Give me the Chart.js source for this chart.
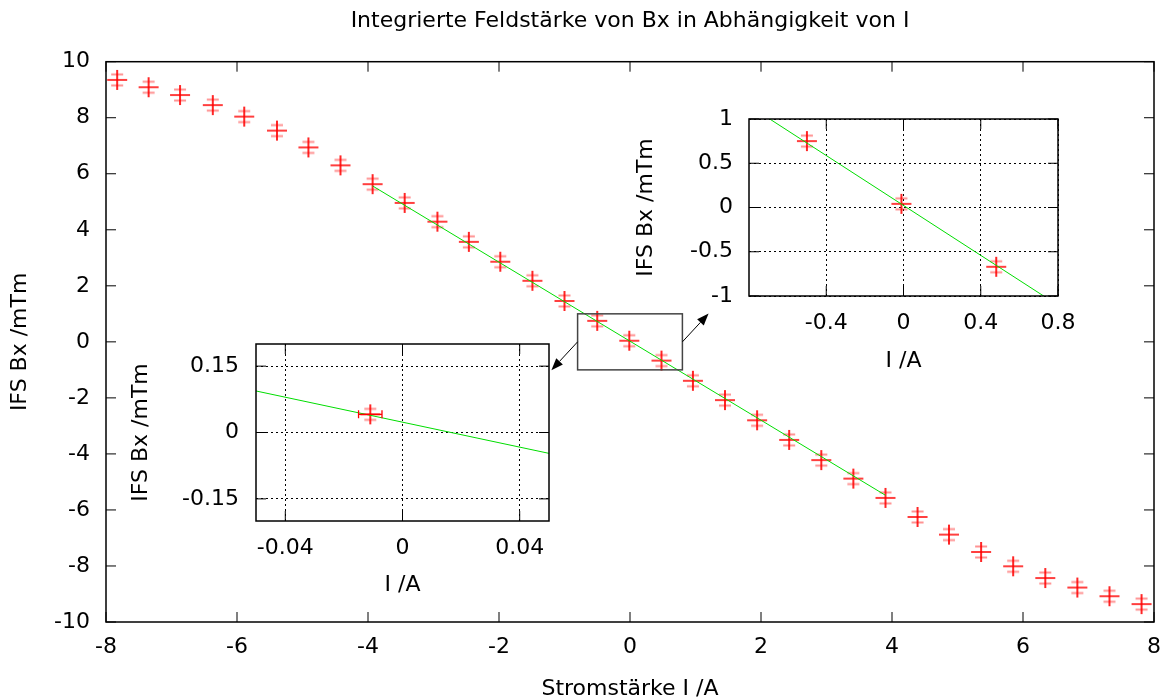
<!DOCTYPE html>
<html>
<head>
<meta charset="utf-8">
<script src="https://cdn.jsdelivr.net/npm/chart.js@4.4.1/dist/chart.umd.min.js"></script>
<style>
  body { margin: 0; background: #fff; }
  #wrap { position: relative; width: 1165px; height: 700px; }
  canvas { position: absolute; }
  #mainChart { left: 0; top: 0; }
  #zoomA { left: 630px; top: 100px; }
  #zoomB { left: 125px; top: 330px; }
</style>
</head>
<body>
<div id="wrap">
  <canvas id="mainChart" width="1165" height="700"></canvas>
  <canvas id="zoomA" width="470" height="280"></canvas>
  <canvas id="zoomB" width="440" height="270"></canvas>
</div>
<script>
// measured values (I in A, IFS Bx in mTm)
const current = [-7.83, -7.35, -6.87, -6.37, -5.89, -5.39, -4.91, -4.42, -3.93, -3.44, -2.94,
  -2.46, -1.98, -1.49, -1.0, -0.50, -0.011, 0.48, 0.96, 1.45, 1.94, 2.43, 2.92, 3.41, 3.9,
  4.39, 4.87, 5.36, 5.85, 6.34, 6.83, 7.32, 7.81];
const field = [9.35, 9.09, 8.81, 8.45, 8.04, 7.54, 6.94, 6.30, 5.63, 4.96, 4.29,
  3.57, 2.86, 2.18, 1.46, 0.75, 0.041, -0.67, -1.39, -2.08, -2.80, -3.50, -4.22, -4.88, -5.57,
  -6.25, -6.88, -7.50, -8.01, -8.43, -8.77, -9.08, -9.36];
const currentError = 0.004;

// linear fit, drawn over the fitted range
const fitCurrent = [-3.93, 3.9];
const fitField = [5.565, -5.476];

// tick labels
const mainXTicks = [-8, -6, -4, -2, 0, 2, 4, 6, 8];
const mainYTicks = [-10, -8, -6, -4, -2, 0, 2, 4, 6, 8, 10];
const zoomAXTicks = [-0.4, 0, 0.4, 0.8];
const zoomAYTicks = [-1, -0.5, 0, 0.5, 1];
const zoomBXTicks = [-0.04, 0, 0.04];
const zoomBYTicks = [-0.15, 0, 0.15];

// zoom box and arrows on the main plot
const zoomBoxX = [-0.8, 0.8];
const zoomBoxY = [-1, 1];
const arrowStart = [[-0.8, 0], [0.8, 0]];
const arrowEnd = [[-1.2, -1.01], [1.2, 1.01]];

const FONT = 'DejaVu Sans';
const SIZE = 22;
Chart.defaults.font.family = FONT;
Chart.defaults.font.size = SIZE;
Chart.defaults.color = '#000';

function makeMarker() {
  const c = document.createElement('canvas');
  c.width = 24; c.height = 24;
  const g = c.getContext('2d');
  g.strokeStyle = 'rgba(255,40,40,0.5)';
  g.lineWidth = 2;
  g.beginPath();
  g.moveTo(6, 6.5); g.lineTo(18, 6.5);
  g.moveTo(6, 17.5); g.lineTo(18, 17.5);
  g.stroke();
  g.strokeStyle = '#ff0000';
  g.lineWidth = 1.7;
  g.beginPath();
  g.moveTo(2, 12); g.lineTo(22, 12);
  g.moveTo(12, 2); g.lineTo(12, 22);
  g.stroke();
  return c;
}
const marker = makeMarker();

// gnuplot style border with inward ticks on all four sides
const frame = {
  id: 'frame',
  afterDraw(chart) {
    const { ctx, chartArea: a, scales } = chart;
    ctx.save();
    ctx.strokeStyle = '#000';
    ctx.lineWidth = 1;
    ctx.beginPath();
    scales.x.ticks.forEach(t => {
      const px = scales.x.getPixelForValue(t.value);
      ctx.moveTo(px, a.bottom); ctx.lineTo(px, a.bottom - 10);
      ctx.moveTo(px, a.top); ctx.lineTo(px, a.top + 10);
    });
    scales.y.ticks.forEach(t => {
      const py = scales.y.getPixelForValue(t.value);
      ctx.moveTo(a.left, py); ctx.lineTo(a.left + 10, py);
      ctx.moveTo(a.right, py); ctx.lineTo(a.right - 10, py);
    });
    ctx.stroke();
    ctx.lineWidth = 1.5;
    ctx.strokeRect(a.left, a.top, a.right - a.left, a.bottom - a.top);
    ctx.restore();
  }
};

// horizontal error bars of the current
const errorBars = {
  id: 'errorBars',
  afterDatasetsDraw(chart) {
    const { ctx, chartArea: a, scales } = chart;
    ctx.save();
    ctx.beginPath();
    ctx.rect(a.left, a.top, a.right - a.left, a.bottom - a.top);
    ctx.clip();
    ctx.strokeStyle = '#ff0000';
    ctx.lineWidth = 1.3;
    ctx.beginPath();
    current.forEach((x, i) => {
      const x0 = scales.x.getPixelForValue(x - currentError);
      const x1 = scales.x.getPixelForValue(x + currentError);
      const py = scales.y.getPixelForValue(field[i]);
      if (x1 - x0 < 3) return;
      ctx.moveTo(x0, py); ctx.lineTo(x1, py);
      ctx.moveTo(x0, py - 4); ctx.lineTo(x0, py + 4);
      ctx.moveTo(x1, py - 4); ctx.lineTo(x1, py + 4);
    });
    ctx.stroke();
    ctx.restore();
  }
};

function drawArrow(ctx, x0, y0, x1, y1) {
  const ang = Math.atan2(y1 - y0, x1 - x0);
  const len = 12, half = 4.5;
  ctx.beginPath();
  ctx.moveTo(x0, y0);
  ctx.lineTo(x1 - len * Math.cos(ang), y1 - len * Math.sin(ang));
  ctx.stroke();
  ctx.beginPath();
  ctx.moveTo(x1, y1);
  ctx.lineTo(x1 - len * Math.cos(ang) + half * Math.sin(ang), y1 - len * Math.sin(ang) - half * Math.cos(ang));
  ctx.lineTo(x1 - len * Math.cos(ang) - half * Math.sin(ang), y1 - len * Math.sin(ang) + half * Math.cos(ang));
  ctx.closePath();
  ctx.fill();
}

const zoomMarks = {
  id: 'zoomMarks',
  afterDatasetsDraw(chart) {
    const { ctx, scales: { x, y } } = chart;
    ctx.save();
    ctx.strokeStyle = '#444';
    ctx.lineWidth = 1.5;
    const l = x.getPixelForValue(zoomBoxX[0]), r = x.getPixelForValue(zoomBoxX[1]);
    const t = y.getPixelForValue(zoomBoxY[1]), b = y.getPixelForValue(zoomBoxY[0]);
    ctx.strokeRect(l, t, r - l, b - t);
    ctx.strokeStyle = '#000';
    ctx.fillStyle = '#000';
    ctx.lineWidth = 1;
    arrowStart.forEach((s, i) => {
      drawArrow(ctx, x.getPixelForValue(s[0]), y.getPixelForValue(s[1]),
        x.getPixelForValue(arrowEnd[i][0]), y.getPixelForValue(arrowEnd[i][1]));
    });
    ctx.restore();
  }
};

function datasets() {
  return [
    {
      type: 'line',
      data: fitCurrent.map((x, i) => ({ x, y: fitField[i] })),
      borderColor: '#00dd00',
      borderWidth: 1,
      pointRadius: 0,
      fill: false
    },
    {
      type: 'scatter',
      data: current.map((x, i) => ({ x, y: field[i] })),
      pointStyle: marker,
      pointRadius: 10
    }
  ];
}

function axis(opts) {
  return {
    type: 'linear',
    min: opts.min,
    max: opts.max,
    afterBuildTicks: s => { s.ticks = opts.ticks.map(v => ({ value: v })); },
    afterFit: s => {
      if (opts.width) s.width = opts.width;
      if (opts.height) s.height = opts.height;
      s.paddingLeft = 0; s.paddingRight = 0; s.paddingTop = 0; s.paddingBottom = 0;
    },
    grid: opts.grid
      ? { display: true, color: '#000', lineWidth: 1, drawTicks: false }
      : { display: false, drawTicks: false },
    border: { display: false, dash: [2, 3] },
    ticks: { padding: opts.pad, callback: v => String(v), font: { size: SIZE }, color: '#000' },
    title: { display: true, text: opts.title, font: { size: SIZE }, color: '#000', padding: opts.titlePad }
  };
}

function makeChart(id, cfg) {
  return new Chart(document.getElementById(id), {
    data: { datasets: datasets() },
    options: {
      responsive: false,
      animation: false,
      layout: { padding: cfg.padding },
      plugins: {
        legend: { display: false },
        tooltip: { enabled: false },
        title: cfg.title
      },
      scales: { x: cfg.x, y: cfg.y }
    },
    plugins: cfg.plugins
  });
}

makeChart('mainChart', {
  padding: { top: 0, right: 10, left: 0, bottom: 0 },
  title: {
    display: true,
    fullSize: false,
    text: 'Integrierte Feldstärke von Bx in Abhängigkeit von I',
    font: { size: SIZE, weight: 'normal' },
    color: '#000',
    padding: { top: 7.6, bottom: 27.7 }
  },
  x: axis({ min: -8, max: 8, ticks: mainXTicks, height: 78, pad: 12, title: 'Stromstärke I /A', titlePad: { top: 0, bottom: -2 } }),
  y: axis({ min: -10, max: 10, ticks: mainYTicks, width: 106, pad: 16, title: 'IFS Bx /mTm', titlePad: { top: 6.8, bottom: 0 } }),
  plugins: [frame, errorBars, zoomMarks]
});

makeChart('zoomA', {
  padding: { top: 19, right: 42, left: 0, bottom: 0 },
  title: { display: false },
  x: axis({ min: -0.8, max: 0.8, ticks: zoomAXTicks, height: 84, pad: 13.8, grid: true, title: 'I /A', titlePad: { top: 0, bottom: 5.8 } }),
  y: axis({ min: -1, max: 1, ticks: zoomAYTicks, width: 119, pad: 16, grid: true, title: 'IFS Bx /mTm', titlePad: { top: 3.3, bottom: 0 } }),
  plugins: [frame, errorBars]
});

makeChart('zoomB', {
  padding: { top: 14, right: 16, left: 0, bottom: 0 },
  title: { display: false },
  x: axis({ min: -0.05, max: 0.05, ticks: zoomBXTicks, height: 79, pad: 13.8, grid: true, title: 'I /A', titlePad: { top: 0, bottom: 1.8 } }),
  y: axis({ min: -0.2, max: 0.2, ticks: zoomBYTicks, width: 131, pad: 17, grid: true, title: 'IFS Bx /mTm', titlePad: { top: 3.3, bottom: 0 } }),
  plugins: [frame, errorBars]
});
</script>
</body>
</html>
